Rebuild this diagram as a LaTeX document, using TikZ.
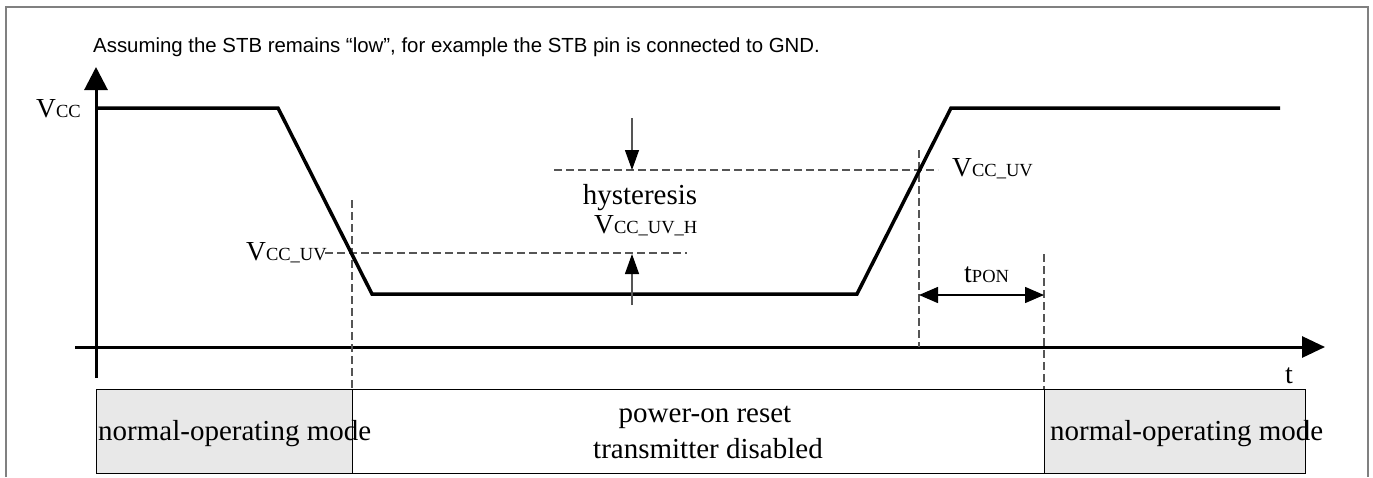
\documentclass[tikz,border=0pt]{standalone}
\usepackage{fontspec}
\setmainfont{Liberation Serif}
\newfontfamily\arialf{Liberation Sans}
\usetikzlibrary{arrows.meta}
\definecolor{boxgray}{HTML}{E8E8E8}
\definecolor{framegray}{HTML}{808080}
\definecolor{dashgray}{HTML}{555555}
\newcommand\VV[1]{{\fontsize{27.5}{30}\selectfont V}{\fontsize{18.5}{20}\selectfont #1}}
\begin{document}
\begin{tikzpicture}[x=1pt,y=-1pt,
  sig/.style={line width=3.5pt, line join=miter},
  axis/.style={line width=3pt},
  dsh/.style={draw=dashgray, line width=1.2pt, dash pattern=on 8pt off 4pt},
  lbl/.style={inner sep=0pt, font=\fontsize{29}{34}\selectfont},
  sub/.style={inner sep=0pt},
  modebox/.style={draw=black, line width=1pt, inner sep=0pt, anchor=north west, minimum height=84pt},
  harrow/.style={draw=dashgray, line width=1.3pt, -{Triangle[length=20pt,width=14pt,fill=black,color=black]}},
]
\useasboundingbox (0,0) rectangle (1373,477);
% frame
\draw[framegray, line width=2pt] (6,477) -- (6,7) -- (1368,7) -- (1368,477);
% title
\node[inner sep=0pt, anchor=base west, font=\arialf\fontsize{20.4}{24}\selectfont] (title) at (93,52)
  {Assuming the STB remains “low”, for example the STB pin is connected to GND.};
% boxes
\node[modebox, fill=boxgray, minimum width=256pt] (b1) at (96,389) {};
\node[modebox, fill=white, minimum width=692pt] (b2) at (352,389) {};
\node[modebox, fill=boxgray, minimum width=261pt] (b3) at (1044,389) {};
% axes
\coordinate (yb) at (96,378);
\coordinate (yt) at (96,67);
\coordinate (xl) at (75,347);
\coordinate (xr) at (1325,347);
\draw[axis, -{Triangle[length=23pt,width=23pt]}] (yb) -- (yt);
\draw[axis, -{Triangle[length=23pt,width=21pt]}] (xl) -- (xr);
% dashed guides
\coordinate (v1a) at (352,200); \coordinate (v1b) at (352,389);
\coordinate (h1a) at (325,253); \coordinate (h1b) at (687,253);
\coordinate (h2a) at (554,170); \coordinate (h2b) at (938,170);
\coordinate (v2a) at (919,150); \coordinate (v2b) at (919,347);
\coordinate (v3a) at (1044,254); \coordinate (v3b) at (1044,389);
\draw[dsh] (v1a) -- (v1b);
\draw[dsh] (h1a) -- (h1b);
\draw[dsh] (h2a) -- (h2b);
\draw[dsh] (v2a) -- (v2b);
\draw[dsh] (v3a) -- (v3b);
% signal
\coordinate (s0) at (96,108);
\coordinate (s1) at (278,108);
\coordinate (s2) at (372,294);
\coordinate (s3) at (857,294);
\coordinate (s4) at (951,108);
\coordinate (s5) at (1280,108);
\draw[sig] (s0) -- (s1) -- (s2) -- (s3) -- (s4) -- (s5);
% hysteresis arrows
\coordinate (ha) at (632,118); \coordinate (hat) at (632,170);
\coordinate (hb) at (632,305); \coordinate (hbt) at (632,254);
\draw[harrow] (ha) -- (hat);
\draw[harrow] (hb) -- (hbt);
% tPON arrow
\coordinate (ta) at (919,295); \coordinate (tb) at (1044,295);
\draw[line width=1.5pt, {Triangle[length=19pt,width=16pt]}-{Triangle[length=19pt,width=16pt]}] (ta) -- (tb);
% labels
\node[sub, anchor=base west] (vcc) at (36,117) {\VV{CC}};
\node[sub, anchor=base west] (uvl) at (246,260) {\VV{CC\_UV}};
\node[sub, anchor=base west] (uvr) at (952,176) {\VV{CC\_UV}};
\node[lbl, anchor=base] (hyst) at (640,204) {hysteresis};
\node[sub, anchor=base west] (uvh) at (594,233) {\VV{CC\_UV\_H}};
\node[sub, anchor=base west] (tpon) at (964,282) {{\fontsize{28}{30}\selectfont t}{\fontsize{18.5}{20}\selectfont PON}};
\node[sub, anchor=base west, font=\fontsize{28}{30}\selectfont] (tlab) at (1285,383) {t};
\node[lbl, anchor=base west] (n1) at (98,440) {normal-operating mode};
\node[lbl, anchor=base west] (n2) at (1050,440) {normal-operating mode};
\node[lbl, anchor=base] (por) at (705,422) {power-on reset};
\node[lbl, anchor=base] (tdis) at (708,458) {transmitter disabled};
\end{tikzpicture}
\end{document}
